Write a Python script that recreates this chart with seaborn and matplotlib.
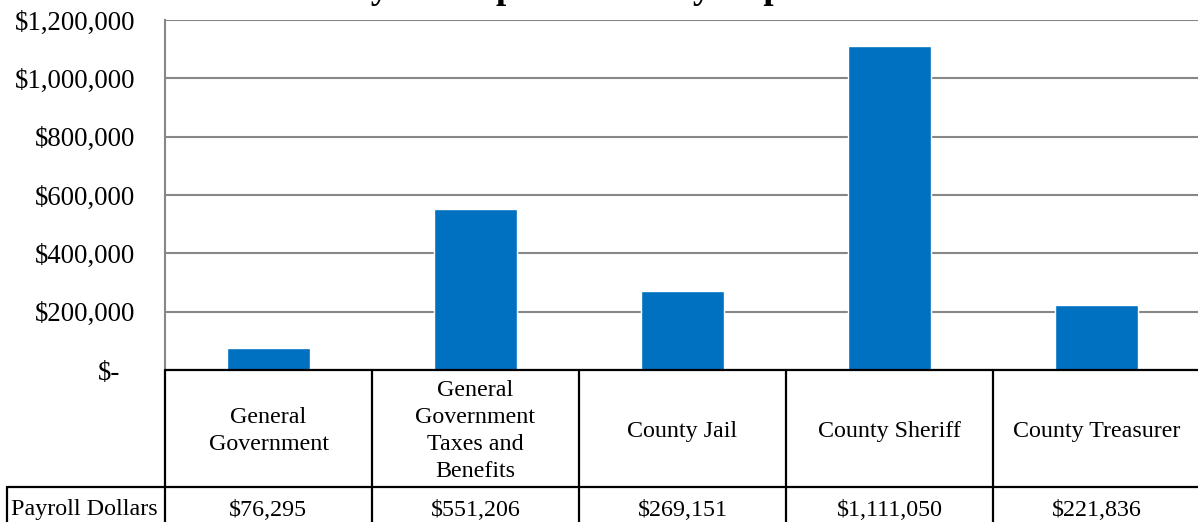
import matplotlib
matplotlib.use('Agg')
import matplotlib.pyplot as plt
import matplotlib.transforms as mtransforms
import seaborn as sns
import pandas as pd

# ---- data ----
categories = ["General\nGovernment", "General\nGovernment\nTaxes and\nBenefits",
              "County Jail", "County Sheriff", "County Treasurer"]
payroll = [76295, 551206, 269151, 1111050, 221836]
yticks = [0, 200000, 400000, 600000, 800000, 1000000, 1200000]
ytick_labels = ["$-", "$200,000", "$400,000", "$600,000", "$800,000", "$1,000,000", "$1,200,000"]
row_label = "Payroll Dollars"
title = "Payroll Expenditures by Department"

sns.set_theme(style='white')
plt.rcParams['font.family'] = ['Liberation Serif', 'DejaVu Serif']

W, H = 1198, 522
fig = plt.figure(figsize=(W / 100, H / 100), dpi=100)
# plot area in pixels: x 165..1200, y 20..370
ax_l, ax_r, ax_t, ax_b = 165, 1200, 20, 370
ax = fig.add_axes([ax_l / W, (H - ax_b) / H, (ax_r - ax_l) / W, (ax_b - ax_t) / H])

df = pd.DataFrame({'Department': categories, 'Payroll': payroll})
sns.barplot(data=df, x='Department', y='Payroll', color='#0070C0', saturation=1,
            width=0.4, ax=ax, zorder=3)
ax.set_xlim(-0.5, len(categories) - 0.5)
ax.set_ylim(0, 1200000)
ax.set_yticks(yticks, ytick_labels)
ax.yaxis.grid(True, color='#878787', lw=1.5)
ax.xaxis.grid(False)
ax.set_axisbelow(True)
ax.tick_params(axis='y', length=0, pad=21.6, labelsize=19.3, colors='black')
ax.set_xticks([])
ax.set_xlabel('')
ax.set_ylabel('')
for s in ['top', 'right']:
    ax.spines[s].set_visible(False)
ax.spines['left'].set_color('#878787')
ax.spines['left'].set_linewidth(1.5)
ax.spines['bottom'].set_visible(False)

# offset the "$-" label as in the accounting format
zero_lab = ax.yaxis.get_major_ticks()[0].label1
zero_lab.set_transform(zero_lab.get_transform() +
                       mtransforms.ScaledTranslation(-15 / 100, 0, fig.dpi_scale_trans))

# ---- data table below the axis ----
ph = ax_b - ax_t
pw = ax_r - ax_l
def fy(ypix):
    return (ax_b - ypix) / ph
def fx(xpix):
    return (xpix - ax_l) / pw

blend = mtransforms.blended_transform_factory(ax.transData, ax.transAxes)
lc = 'black'
lw = 1.6
n = len(categories)
# horizontal lines
ax.plot([-0.5, n - 0.5], [fy(370), fy(370)], transform=blend, color=lc, lw=lw, clip_on=False, zorder=5)
ax.plot([fx(7), 1.0], [fy(487), fy(487)], transform=ax.transAxes, color=lc, lw=lw, clip_on=False, zorder=5)
# vertical lines
for i in range(n + 1):
    ax.plot([i - 0.5, i - 0.5], [fy(370), fy(530)], transform=blend, color=lc, lw=lw, clip_on=False, zorder=5)
ax.plot([fx(7), fx(7)], [fy(487), fy(530)], transform=ax.transAxes, color=lc, lw=lw, clip_on=False, zorder=5)

for i, (c, v) in enumerate(zip(categories, payroll)):
    ax.text(i, fy(431), c, transform=blend, ha='center', va='center', fontsize=17.3,
            linespacing=1.37, color='black')
    ax.text(i, fy(510), f"${v:,}", transform=blend, ha='center', va='center', fontsize=17.3,
            color='black')
ax.text(fx(84), fy(510), row_label, transform=ax.transAxes, ha='center', va='center',
        fontsize=17.3, color='black')

# title (partly clipped at the top edge, as in the reference)
fig.text(620 / W, (H + 1.5) / H, title, ha='center', va='baseline', fontsize=26.5,
         fontweight='bold', color='black')

fig.savefig('out.png', dpi=100)
